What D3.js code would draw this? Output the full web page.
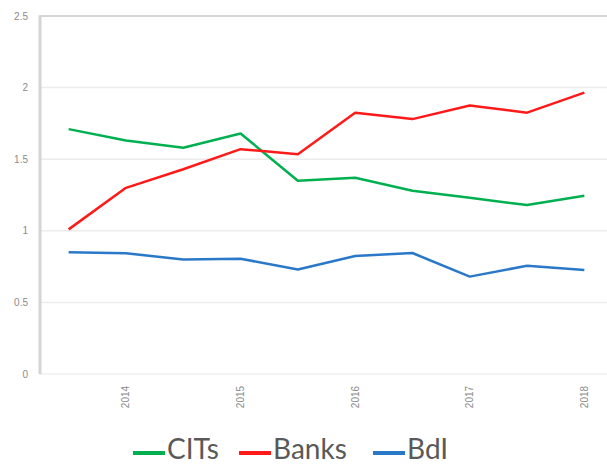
<!DOCTYPE html>
<html><head><meta charset="utf-8">
<script src="https://cdn.jsdelivr.net/npm/d3@7"></script>
<style>body{margin:0;background:#fff}svg{display:block}</style>
</head><body>
<script>
const categories = ["2013-2","2014","2014-2","2015","2015-2","2016","2016-2","2017","2017-2","2018"];
const tickLabels = ["","2014","","2015","","2016","","2017","","2018"];
const cits  = [1.71,1.63,1.58,1.68,1.35,1.37,1.28,1.23,1.18,1.245];
const banks = [1.01,1.30,1.43,1.57,1.535,1.825,1.78,1.875,1.825,1.965];
const bdi   = [0.85,0.843,0.80,0.805,0.73,0.824,0.845,0.68,0.756,0.726];
const yTicks = [0,0.5,1,1.5,2,2.5];
const seriesNames = ["CITs","Banks","BdI"];
const colors = ["#00b050","#ff1a1a","#2a78c8"];

const W=607,H=465;
const svg=d3.select("body").append("svg").attr("width",W).attr("height",H);
const x=d3.scaleBand().domain(categories).range([40,613]);
const y=d3.scaleLinear().domain([0,2.5]).range([374,16]);

// gridlines
svg.append("g").selectAll("line").data(yTicks.filter(t=>t>0&&t<2.5)).join("line")
  .attr("x1",40).attr("x2",W).attr("y1",d=>y(d)).attr("y2",d=>y(d))
  .attr("stroke","#ececec").attr("stroke-width",1.5);
svg.append("line").attr("x1",40).attr("x2",W).attr("y1",y(0)).attr("y2",y(0))
  .attr("stroke","#efefef").attr("stroke-width",1.5);
svg.append("line").attr("x1",40).attr("x2",W).attr("y1",y(2.5)).attr("y2",y(2.5))
  .attr("stroke","#c8c8c8").attr("stroke-width",1.5);
svg.append("line").attr("x1",40).attr("x2",40).attr("y1",y(2.5)-0.75).attr("y2",y(0))
  .attr("stroke","#d4d4d4").attr("stroke-width",3);

// y tick labels
svg.append("g").selectAll("text").data(yTicks).join("text")
  .attr("x",28).attr("y",d=>y(d)).attr("dy","0.35em").attr("text-anchor","end")
  .attr("font-family","Liberation Sans, Arial, sans-serif").attr("font-size",10)
  .attr("fill","#8a8a8a").text(d=>d);

// x tick labels
svg.append("g").selectAll("text").data(categories).join("text")
  .attr("transform",(d)=>`translate(${x(d)+x.bandwidth()/2+3.5},397) rotate(-90)`)
  .attr("text-anchor","middle")
  .attr("font-family","Liberation Sans, Arial, sans-serif").attr("font-size",10)
  .attr("fill","#8a8a8a").text((d,i)=>tickLabels[i]);

// lines
const line=d3.line().x((d,i)=>x(categories[i])+x.bandwidth()/2).y(d=>y(d));
[cits,banks,bdi].forEach((s,k)=>{
  svg.append("path").datum(s).attr("d",line).attr("fill","none")
    .attr("stroke",colors[k]).attr("stroke-width",2.5).attr("stroke-linejoin","round");
});

// legend
const legX=[133,239,373];
seriesNames.forEach((n,k)=>{
  svg.append("line").attr("x1",legX[k]).attr("x2",legX[k]+32).attr("y1",453).attr("y2",453)
    .attr("stroke",colors[k]).attr("stroke-width",4);
  svg.append("text").attr("x",legX[k]+34).attr("y",459)
    .attr("font-family","Lato, Open Sans, sans-serif").attr("font-size",28)
    .attr("fill","#595959").text(n);
});
</script>
</body></html>
